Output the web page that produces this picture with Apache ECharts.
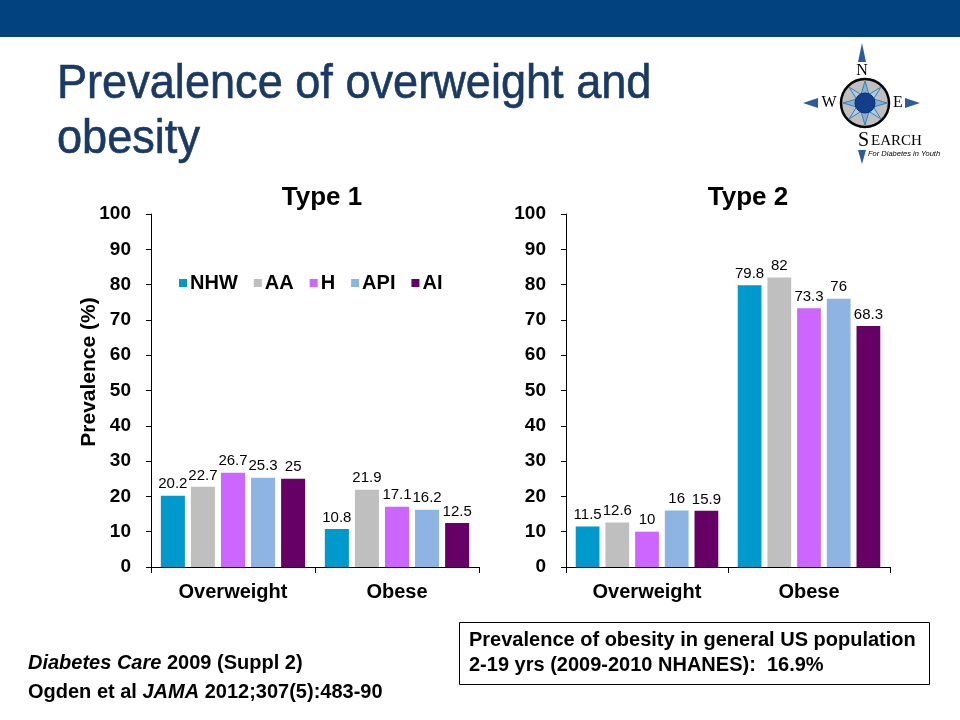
<!DOCTYPE html>
<html>
<head>
<meta charset="utf-8">
<script src="https://cdn.jsdelivr.net/npm/echarts@6/dist/echarts.min.js"></script>
<style>html,body{margin:0;padding:0;background:#fff}#main{width:960px;height:720px}</style>
</head>
<body>
<div id="main"></div>
<script>
const categories = ['Overweight', 'Obese'];
const groups = ['NHW', 'AA', 'H', 'API', 'AI'];
const type1NHW = [20.2, 10.8];
const type1AA  = [22.7, 21.9];
const type1H   = [26.7, 17.1];
const type1API = [25.3, 16.2];
const type1AI  = [25, 12.5];
const type2NHW = [11.5, 79.8];
const type2AA  = [12.6, 82];
const type2H   = [10, 73.3];
const type2API = [16, 76];
const type2AI  = [15.9, 68.3];
const yTicks = [0, 10, 20, 30, 40, 50, 60, 70, 80, 90, 100];
const colors = ['#0099CC', '#BFBFBF', '#CC66FF', '#8EB4E3', '#660066'];

const type1 = [type1NHW, type1AA, type1H, type1API, type1AI];
const type2 = [type2NHW, type2AA, type2H, type2API, type2AI];

const FONT = '"Liberation Sans", Arial, sans-serif';

function yAxis(idx) {
  return {
    type: 'value', gridIndex: idx, min: yTicks[0], max: yTicks[yTicks.length - 1], interval: 10,
    axisLine: { show: true, lineStyle: { color: '#000', width: 1 } },
    axisTick: { show: true, length: 5, lineStyle: { color: '#000' } },
    splitLine: { show: false },
    axisLabel: { margin: 20, fontFamily: FONT, fontSize: 19, fontWeight: 'bold', color: '#000' }
  };
}
function xAxis(idx) {
  return {
    type: 'category', gridIndex: idx, data: categories,
    axisLine: { lineStyle: { color: '#000', width: 1 } },
    axisTick: { show: true, length: 6, lineStyle: { color: '#000' } },
    axisLabel: { margin: 15, fontFamily: FONT, fontSize: 20, fontWeight: 'bold', color: '#000' }
  };
}

const series = [];
[type1, type2].forEach((set, gi) => {
  set.forEach((vals, i) => {
    series.push({
      type: 'bar', name: groups[i], xAxisIndex: gi, yAxisIndex: gi,
      data: vals, barGap: '25%', barCategoryGap: '12%',
      itemStyle: { color: colors[i] },
      label: { show: true, position: 'top', distance: 4, fontFamily: FONT, fontSize: 15, color: '#000' }
    });
  });
});

const chart = echarts.init(document.getElementById('main'), null, { renderer: 'canvas' });
chart.setOption({
  animation: false,
  backgroundColor: '#fff',
  title: [
    { text: 'Type 1', left: 317, top: 180, textAlign: 'center', textStyle: { fontFamily: FONT, fontSize: 26, fontWeight: 'bold', color: '#000' } },
    { text: 'Type 2', left: 743, top: 180, textAlign: 'center', textStyle: { fontFamily: FONT, fontSize: 26, fontWeight: 'bold', color: '#000' } }
  ],
  legend: {
    data: groups, left: 174, top: 268, itemWidth: 8, itemHeight: 8, itemGap: 16,
    icon: 'rect',
    textStyle: { fontFamily: FONT, fontSize: 20, fontWeight: 'bold', color: '#000', padding: [0, 0, 0, -2] }
  },
  grid: [
    { left: 151, top: 214, width: 328, height: 353 },
    { left: 566, top: 214, width: 324, height: 353 }
  ],
  xAxis: [xAxis(0), xAxis(1)],
  yAxis: [yAxis(0), yAxis(1)],
  series: series,
  graphic: [
    { type: 'rect', shape: { x: 0, y: 0, width: 960, height: 37 }, style: { fill: '#02427F' }, silent: true },
    { type: 'text', x: 57, y: 61, scaleX: 0.94, style: { text: 'Prevalence of overweight and', fontFamily: FONT, fontSize: 48, fill: '#1B3A63', stroke: '#1B3A63', lineWidth: 0.6, verticalAlign: 'top' } },
    { type: 'text', x: 57, y: 116, scaleX: 0.94, style: { text: 'obesity', fontFamily: FONT, fontSize: 48, fill: '#1B3A63', stroke: '#1B3A63', lineWidth: 0.6, verticalAlign: 'top' } },
    { type: 'text', x: 89, y: 372, rotation: Math.PI / 2, style: { text: 'Prevalence (%)', fontFamily: FONT, fontSize: 21, fontWeight: 'bold', fill: '#000', align: 'center', verticalAlign: 'middle' } },
    // logo
    { type: 'group', silent: true, children: [
      { type: 'polygon', shape: { points: [[862, 43], [866, 62], [858, 62]] }, style: { fill: '#2E5B9A' } },
      { type: 'text', x: 862, y: 71, style: { text: 'N', fontFamily: '"Liberation Serif", serif', fontSize: 16, fill: '#000', align: 'center', verticalAlign: 'middle' } },
      { type: 'polygon', shape: { points: [[803, 103], [818, 98], [818, 108]] }, style: { fill: '#2E5B9A' } },
      { type: 'text', x: 829, y: 103, style: { text: 'W', fontFamily: '"Liberation Serif", serif', fontSize: 16, fill: '#000', align: 'center', verticalAlign: 'middle' } },
      { type: 'polygon', shape: { points: [[920, 103], [905, 98], [905, 108]] }, style: { fill: '#2E5B9A' } },
      { type: 'text', x: 898, y: 103, style: { text: 'E', fontFamily: '"Liberation Serif", serif', fontSize: 16, fill: '#000', align: 'center', verticalAlign: 'middle' } },
      { type: 'circle', shape: { cx: 865, cy: 103, r: 24 }, style: { fill: '#BFBFBF', stroke: '#000', lineWidth: 2.5 } },
      { type: 'polygon', shape: { points: [[865, 81], [870, 98], [887, 103], [870, 108], [865, 125], [860, 108], [843, 103], [860, 98]] }, style: { fill: '#7FB2D6', stroke: '#3C7FB0', lineWidth: 1 } },
      { type: 'polygon', shape: { points: [[881, 87], [871, 103], [881, 119], [865, 109], [849, 119], [859, 103], [849, 87], [865, 97]] }, style: { fill: '#A9CDE6', stroke: '#3C7FB0', lineWidth: 1 } },
      { type: 'circle', shape: { cx: 865, cy: 103, r: 10 }, style: { fill: '#123E8C', stroke: '#0A2A66', lineWidth: 1 } },
      { type: 'text', x: 858, y: 131, style: { text: 'S', fontFamily: '"Liberation Serif", serif', fontSize: 20, fill: '#000' } },
      { type: 'text', x: 871, y: 134, style: { text: 'EARCH', fontFamily: '"Liberation Serif", serif', fontSize: 15, fill: '#000' } },
      { type: 'polygon', shape: { points: [[858, 150], [866, 150], [862, 164]] }, style: { fill: '#2E5B9A' } },
      { type: 'text', x: 868, y: 150, style: { text: 'For Diabetes in Youth', fontFamily: FONT, fontSize: 7.5, fontStyle: 'italic', fill: '#000' } }
    ]},
    // footer
    { type: 'text', left: 28, top: 653, style: {
      text: '{i|Diabetes Care} 2009 (Suppl 2)',
      rich: { i: { fontFamily: FONT, fontSize: 20, fontStyle: 'italic', fontWeight: 'bold', fill: '#000' } },
      fontFamily: FONT, fontSize: 20, fontWeight: 'bold', fill: '#000' } },
    { type: 'text', left: 28, top: 682, style: {
      text: 'Ogden et al {i|JAMA} 2012;307(5):483-90',
      rich: { i: { fontFamily: FONT, fontSize: 20, fontStyle: 'italic', fontWeight: 'bold', fill: '#000' } },
      fontFamily: FONT, fontSize: 20, fontWeight: 'bold', fill: '#000' } },
    { type: 'rect', shape: { x: 459.5, y: 622.5, width: 470, height: 62 }, style: { fill: '#fff', stroke: '#000', lineWidth: 1 } },
    { type: 'text', left: 469, top: 630, style: { text: 'Prevalence of obesity in general US population', fontFamily: FONT, fontSize: 20, fontWeight: 'bold', fill: '#000' } },
    { type: 'text', left: 469, top: 655, style: { text: '2-19 yrs (2009-2010 NHANES):  16.9%', fontFamily: FONT, fontSize: 20, fontWeight: 'bold', fill: '#000' } }
  ]
});
</script>
</body>
</html>
